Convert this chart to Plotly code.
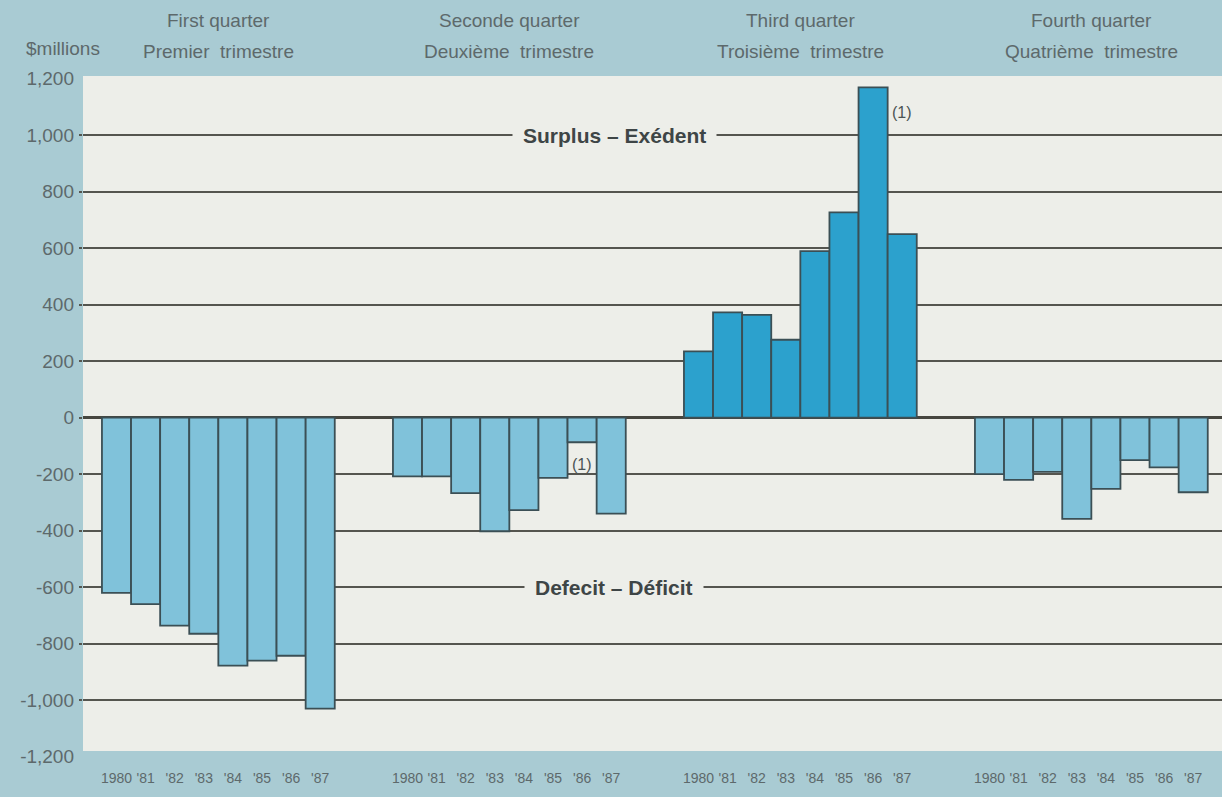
import plotly.graph_objects as go

# ---------------- data ----------------
years = ["1980", "'81", "'82", "'83", "'84", "'85", "'86", "'87"]
quarters_en = ["First quarter", "Seconde quarter", "Third quarter", "Fourth quarter"]
quarters_fr = ["Premier\u00a0 trimestre", "Deuxième\u00a0 trimestre",
               "Troisième\u00a0 trimestre", "Quatrième\u00a0 trimestre"]

q1 = [-620, -660, -736, -765, -878, -860, -843, -1030]
q2 = [-208, -208, -267, -402, -327, -213, -87, -340]
q3 = [235, 373, 364, 276, 590, 727, 1170, 650]
q4 = [-200, -220, -192, -358, -252, -150, -176, -264]
series = [q1, q2, q3, q4]

ytick_vals = [-1200, -1000, -800, -600, -400, -200, 0, 200, 400, 600, 800, 1000, 1200]
ytick_text = ["-1,200", "-1,000", "-800", "-600", "-400", "-200", "0",
              "200", "400", "600", "800", "1,000", "1,200"]
grid_vals = [-1000, -800, -600, -400, -200, 0, 200, 400, 600, 800, 1000]

zone_labels = ["Surplus – Exédent", "Defecit – Déficit"]
zone_levels = [1000, -600]

# footnote markers: (quarter index, year index, y level)
note_text = "(1)"
note_quarter = [1, 2]
note_year = [6, 7]
note_level = [-165, 1080]

# ---------------- styling ----------------
OUTER = "#a9cbd3"
PANEL = "#edeee9"
NEG = "#80c2da"
POS = "#2ca1cd"
EDGE = "#3b4f55"
GRID = "#55554f"
TXT = "#5d696b"
FONT = "Liberation Sans, Arial, Helvetica, sans-serif"

W, H = 1222, 797
ML, MR, MT, MB = 83, 0, 76, 39
PH = H - MT - MB
SLOT = 10  # slots per quarter group (8 bars + gap)

def xpos(q, i):
    return q * SLOT + i

fig = go.Figure()

for q, vals in enumerate(series):
    fig.add_trace(go.Bar(
        x=[xpos(q, i) for i in range(len(vals))],
        y=vals,
        width=1.0,
        marker=dict(color=POS if q == 2 else NEG,
                    line=dict(color=EDGE, width=1.8)),
        hoverinfo="skip",
        showlegend=False,
    ))

# invisible helper trace so the label axis is drawn
fig.add_trace(go.Scatter(x=[xpos(0, 0)], y=[0], mode="markers",
                         marker=dict(opacity=0), yaxis="y2",
                         hoverinfo="skip", showlegend=False))

tickvals = [xpos(q, i) for q in range(4) for i in range(len(years))]
ticktext = years * 4

annotations = []
for q in range(4):
    cx = xpos(q, 3.5)
    annotations.append(dict(x=cx, xref="x", y=1 + (MT - 20) / PH, yref="paper",
                            text=quarters_en[q], showarrow=False,
                            font=dict(family=FONT, size=19, color=TXT),
                            xanchor="center", yanchor="middle"))
    annotations.append(dict(x=cx, xref="x", y=1 + (MT - 51) / PH, yref="paper",
                            text=quarters_fr[q], showarrow=False,
                            font=dict(family=FONT, size=19, color=TXT),
                            xanchor="center", yanchor="middle"))

annotations.append(dict(x=(102 - ML) / (W - ML - MR), xref="paper",
                        y=1 + (MT - 48) / PH, yref="paper",
                        text="$millions", showarrow=False,
                        font=dict(family=FONT, size=19, color=TXT),
                        xanchor="right", yanchor="middle"))

for lab, lev in zip(zone_labels, zone_levels):
    annotations.append(dict(x=17.1, xref="x", y=lev, yref="y",
                            text="<b>%s</b>" % lab, showarrow=False,
                            font=dict(family=FONT, size=21, color="#3e4546"),
                            bgcolor=PANEL, borderpad=10,
                            xanchor="center", yanchor="middle"))

for q, i, lev in zip(note_quarter, note_year, note_level):
    annotations.append(dict(x=xpos(q, i), xref="x", y=lev, yref="y",
                            text=note_text, showarrow=False,
                            font=dict(family=FONT, size=16, color="#4a5354"),
                            xanchor="center", yanchor="middle"))

yr = [-1205, 1210]
x0 = -(116.5 - ML) / 29.1
xr = [x0, x0 + (W - ML - MR) / 29.1]

fig.update_layout(
    width=W, height=H,
    margin=dict(l=ML, r=MR, t=MT, b=MB, pad=0),
    paper_bgcolor=OUTER, plot_bgcolor=OUTER,
    barmode="overlay",
    showlegend=False,
    font=dict(family=FONT, color=TXT),
    xaxis=dict(range=xr, tickmode="array", tickvals=tickvals, ticktext=ticktext,
               tickfont=dict(family=FONT, size=14, color=TXT),
               ticklabelstandoff=10, showgrid=False, zeroline=False,
               showline=False, ticks=""),
    yaxis=dict(range=yr, tickmode="array", tickvals=grid_vals,
               showticklabels=False, showgrid=True, gridcolor=GRID, gridwidth=1.6,
               zeroline=True, zerolinecolor="#46463f", zerolinewidth=3,
               ticks="outside", ticklen=3, tickcolor=GRID, tickwidth=1.6,
               showline=False),
    yaxis2=dict(range=yr, overlaying="y", side="left", tickmode="array",
                tickvals=ytick_vals, ticktext=ytick_text,
                tickfont=dict(family=FONT, size=19, color=TXT),
                ticklabelstandoff=8, showgrid=False, zeroline=False,
                showline=False, ticks=""),
    shapes=[dict(type="rect", xref="paper", x0=0, x1=1, yref="y",
                 y0=-1180, y1=yr[1], fillcolor=PANEL, line=dict(width=0),
                 layer="below")],
    annotations=annotations,
)

fig.write_html("out.html",
               config={"displayModeBar": False},
               post_script="document.body.style.margin='0';"
                           "document.body.style.overflow='hidden';")
